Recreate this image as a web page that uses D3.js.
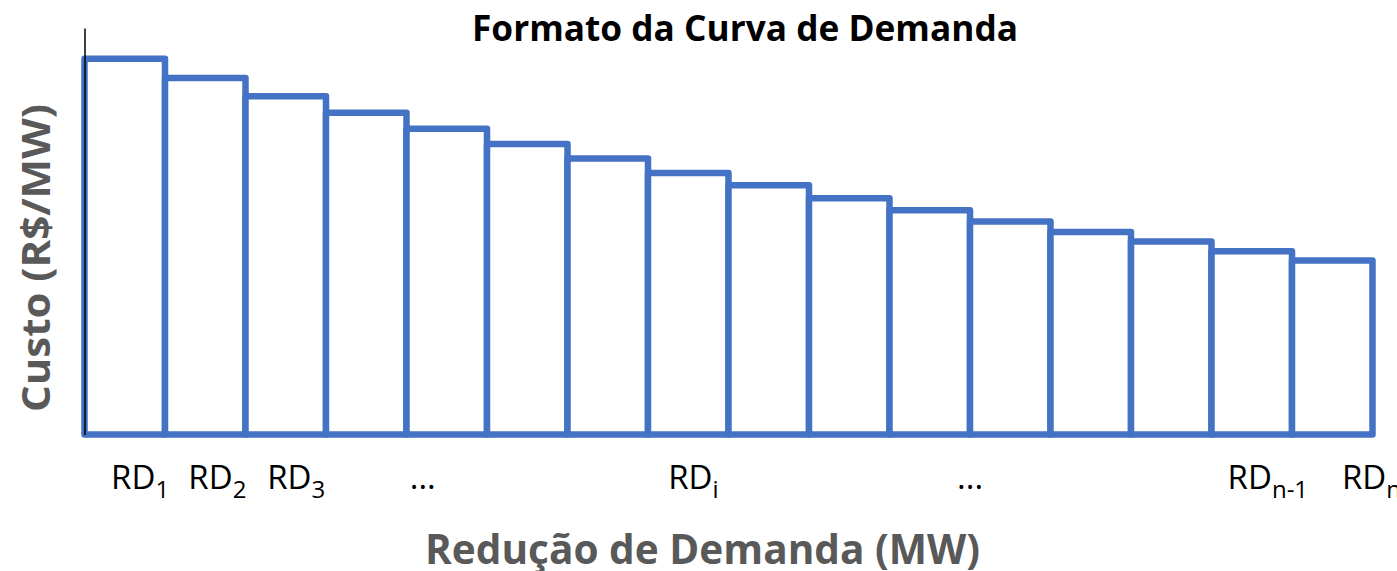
<!DOCTYPE html>
<html>
<head>
<meta charset="utf-8">
<script src="https://cdn.jsdelivr.net/npm/d3@7"></script>
<style>
  body { margin: 0; background: #fff; }
  svg { display: block; }
</style>
</head>
<body>
<div id="chart"></div>
<script>
// costs of each demand-reduction block (arbitrary R$/MW units), one block = 1 MW
var costs = [99.8, 94.7, 89.9, 85.5, 81.2, 77.2, 73.3, 69.5, 66.2, 62.8, 59.6, 56.6, 53.8, 51.3, 48.7, 46.2];
var yMax = 108;
// tick labels under the x axis, placed at a point on the MW axis
var tickMain = ["RD", "RD", "RD", "...", "RD", "...", "RD", "RD"];
var tickSub = ["1", "2", "3", "", "i", "", "n-1", "n"];
var tickAt = [0.33, 1.29, 2.27, 4.04, 7.25, 10.84, 14.2, 15.62];

var title = "Formato da Curva de Demanda";
var xTitle = "Redução de Demanda (MW)";
var yTitle = "Custo (R$/MW)";

var width = 1397, height = 571;
var blue = "#4472C4";
var grey = "#595959";

var svg = d3.select("#chart").append("svg")
	.attr("width", width)
	.attr("height", height);

var x = d3.scaleLinear().domain([0, costs.length]).range([84.5, 1372.5]);
var y = d3.scaleLinear().domain([0, yMax]).range([434.5, 28]);

svg.selectAll("rect.bar")
	.data(costs)
	.enter()
	.append("rect")
	.attr("class", "bar")
	.attr("x", function(d, i) { return x(i); })
	.attr("y", function(d) { return y(d); })
	.attr("width", function(d, i) { return x(i + 1) - x(i); })
	.attr("height", function(d) { return y(0) - y(d); })
	.style("fill", "#fff")
	.style("stroke", blue)
	.style("stroke-width", 6.5)
	.style("stroke-linejoin", "round");

// plain vertical axis line, no ticks
var yAxis = svg.append("g")
	.attr("transform", "translate(" + x(0) + ",0)")
	.call(d3.axisLeft(y).tickValues([]).tickSizeOuter(0));
yAxis.select(".domain").attr("stroke", "#000").attr("stroke-width", 1.5);

var ticks = svg.selectAll("text.tick-label")
	.data(tickMain)
	.enter()
	.append("text")
	.attr("class", "tick-label")
	.attr("x", function(d, i) { return x(tickAt[i]); })
	.attr("y", 489)
	.attr("font-family", "'Open Sans', sans-serif")
	.attr("font-size", 33)
	.style("fill", "#000");
ticks.append("tspan").text(function(d) { return d; });
ticks.append("tspan")
	.attr("font-size", 24)
	.attr("dy", 9)
	.text(function(d, i) { return tickSub[i]; });

svg.append("text")
	.attr("x", 472)
	.attr("y", 41)
	.attr("textLength", 546)
	.attr("lengthAdjust", "spacingAndGlyphs")
	.attr("font-family", "'Open Sans', sans-serif")
	.attr("font-weight", "bold")
	.attr("font-size", 36)
	.style("fill", "#000")
	.text(title);

svg.append("text")
	.attr("x", 425)
	.attr("y", 564)
	.attr("textLength", 555)
	.attr("lengthAdjust", "spacingAndGlyphs")
	.attr("font-family", "'Open Sans', sans-serif")
	.attr("font-weight", "bold")
	.attr("font-size", 42)
	.style("fill", grey)
	.text(xTitle);

svg.append("text")
	.attr("transform", "translate(50,412) rotate(-90)")
	.attr("x", 0)
	.attr("y", 0)
	.attr("textLength", 308)
	.attr("lengthAdjust", "spacingAndGlyphs")
	.attr("font-family", "'Open Sans', sans-serif")
	.attr("font-weight", "bold")
	.attr("font-size", 40)
	.style("fill", grey)
	.text(yTitle);
</script>
</body>
</html>
